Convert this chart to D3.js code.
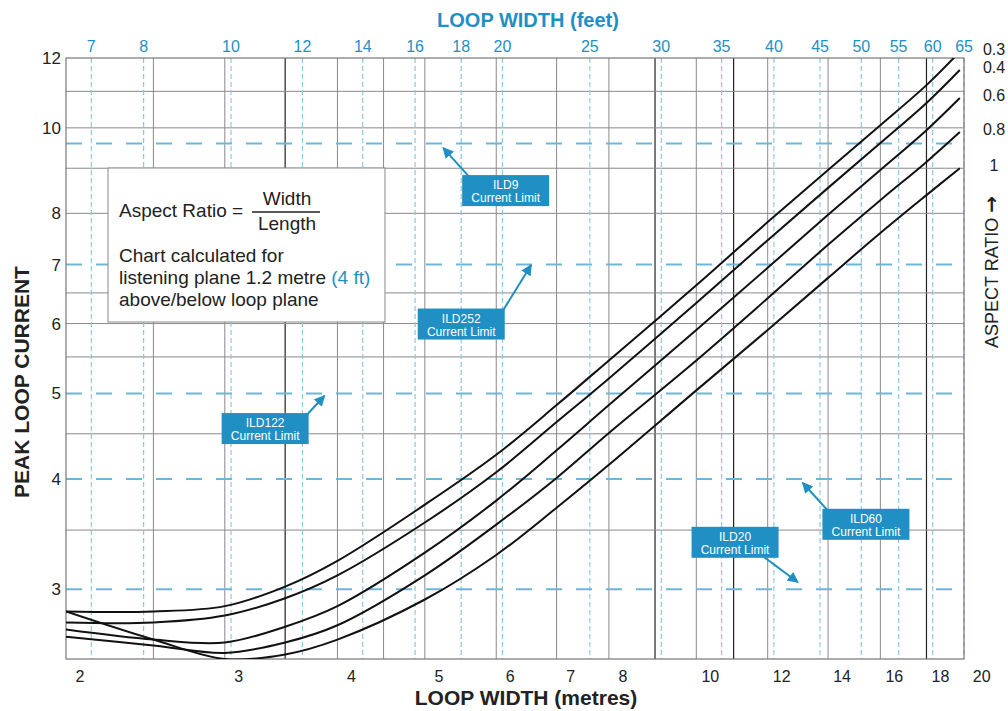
<!DOCTYPE html>
<html lang="en">
<head>
<meta charset="utf-8">
<title>Peak loop current</title>
<script src="https://d3js.org/d3.v7.min.js"></script>
<style>
  body{margin:0;background:#fff;font-family:"Liberation Sans",Arial,Helvetica,sans-serif;}
  svg text{font-family:"Liberation Sans",Arial,Helvetica,sans-serif;}
</style>
</head>
<body>
<div id="chart"></div>
<script>
// loop width samples (metres) used by every curve
var widths = [2, 2.5, 3, 3.5, 4, 5, 6, 7, 8, 10, 12, 14, 16, 18, 19.6]
// peak loop current for each aspect ratio
var ar03 = [2.83, 2.83, 2.87, 3.02, 3.23, 3.74, 4.26, 4.85, 5.45, 6.63, 7.82, 8.96, 10.07, 11.18, 12.2]
var ar04 = [2.75, 2.75, 2.80, 2.93, 3.11, 3.57, 4.07, 4.64, 5.20, 6.33, 7.46, 8.55, 9.61, 10.67, 11.63]
var ar06 = [2.70, 2.63, 2.61, 2.72, 2.87, 3.30, 3.78, 4.31, 4.85, 5.90, 6.94, 7.97, 8.96, 9.94, 10.81]
var ar08 = [2.65, 2.59, 2.54, 2.61, 2.73, 3.11, 3.55, 4.01, 4.51, 5.45, 6.41, 7.37, 8.28, 9.15, 9.89]
var ar10 = [2.83, 2.63, 2.50, 2.53, 2.63, 2.92, 3.28, 3.71, 4.15, 5.04, 5.90, 6.76, 7.60, 8.39, 9.0]
var curves = [ar03, ar04, ar06, ar08, ar10]
var ratioLabels = ["0.3", "0.4", "0.6", "0.8", "1"]

// axes ticks
var metreTicks = [2, 3, 4, 5, 6, 7, 8, 10, 12, 14, 16, 18, 20]
var feetTicks = [7, 8, 10, 12, 14, 16, 18, 20, 25, 30, 35, 40, 45, 50, 55, 60, 65]
var ampTicks = [3, 4, 5, 6, 7, 8, 10, 12]
// grid lines
var metreGrid = [2.5, 3, 3.5, 4, 4.5, 5, 6, 7, 8, 9, 10, 11, 12, 14, 16, 18]
var metreGridDark = [3.5, 9, 11, 18]
var ampGrid = [11, 10, 9, 8, 6.5, 6, 5.5, 4.5, 3.5]

// current limits of the amplifiers
var limitNames = ["ILD9", "ILD252", "ILD122", "ILD60", "ILD20"]
var limitAmps = [9.6, 7, 5, 4, 3]
// callout: box top-left, arrow start, arrow tip  (metres, amps)
var calloutBox = [[5.5, 8.84], [4.91, 6.24], [2.976, 4.75], [13.8, 3.70], [9.88, 3.53]]
var calloutFrom = [[5.6, 8.8], [6.1, 6.2], [3.7, 4.73], [14.0, 3.68], [11.8, 3.28]]
var calloutTip = [[5.24, 9.49], [6.56, 6.99], [3.87, 4.97], [13.12, 3.96], [12.96, 3.055]]

var W = 1008, H = 711
var svg = d3.select("#chart").append("svg").attr("width", W).attr("height", H)

var x = d3.scaleLog().domain([2, 19.81]).range([66, 964])
var y = d3.scaleLog().domain([2.5, 12]).range([659, 58])
var FT = 0.3048
var blue = "#1f8fc4", lightBlue = "#6cb7d9"

// solid grid
svg.selectAll(".vgrid").data(metreGrid).enter().append("line")
  .attr("x1", function(d){ return x(d) }).attr("x2", function(d){ return x(d) })
  .attr("y1", 58).attr("y2", 659)
  .attr("stroke", function(d){ return metreGridDark.indexOf(d) >= 0 ? "#222" : "#8a8a8a" })
  .attr("stroke-width", function(d){ return metreGridDark.indexOf(d) >= 0 ? 1.2 : 1 })
svg.selectAll(".hgrid").data(ampGrid).enter().append("line")
  .attr("x1", 66).attr("x2", 964)
  .attr("y1", function(d){ return y(d) }).attr("y2", function(d){ return y(d) })
  .attr("stroke", "#8a8a8a")

// feet grid (dashed blue)
svg.selectAll(".fgrid").data(feetTicks).enter().append("line")
  .attr("x1", function(d){ return x(d * FT) }).attr("x2", function(d){ return x(d * FT) })
  .attr("y1", 58).attr("y2", 659)
  .attr("stroke", "#8cc8e2").attr("stroke-width", 1.2).attr("stroke-dasharray", "5,3")

// current limit lines
svg.selectAll(".limit").data(limitAmps).enter().append("line")
  .attr("x1", 66).attr("x2", 964)
  .attr("y1", function(d){ return y(d) }).attr("y2", function(d){ return y(d) })
  .attr("stroke", lightBlue).attr("stroke-width", 2).attr("stroke-dasharray", "16,14")

// frame
svg.append("rect").attr("x", 66).attr("y", 58).attr("width", 898).attr("height", 601)
  .attr("fill", "none").attr("stroke", "#777").attr("stroke-width", 1.2)

// info box
var box = svg.append("g")
box.append("rect").attr("x", 108).attr("y", 168).attr("width", 277).attr("height", 154)
  .attr("fill", "#fff").attr("stroke", "#888")
box.append("text").attr("x", 119).attr("y", 217).attr("font-size", 19).attr("fill", "#222").text("Aspect Ratio =")
box.append("text").attr("x", 287).attr("y", 205).attr("font-size", 19).attr("fill", "#222").attr("text-anchor", "middle").text("Width")
box.append("line").attr("x1", 252).attr("x2", 320).attr("y1", 212).attr("y2", 212).attr("stroke", "#222").attr("stroke-width", 1.5)
box.append("text").attr("x", 287).attr("y", 230).attr("font-size", 19).attr("fill", "#222").attr("text-anchor", "middle").text("Length")
box.append("text").attr("x", 119).attr("y", 262).attr("font-size", 19).attr("fill", "#222").text("Chart calculated for")
var t2 = box.append("text").attr("x", 119).attr("y", 284).attr("font-size", 19).attr("fill", "#222")
t2.append("tspan").text("listening plane 1.2 metre ")
t2.append("tspan").attr("fill", blue).text("(4 ft)")
box.append("text").attr("x", 119).attr("y", 306).attr("font-size", 19).attr("fill", "#222").text("above/below loop plane")

// curves
svg.append("clipPath").attr("id", "clip").append("rect")
  .attr("x", 66).attr("y", 58).attr("width", 898).attr("height", 601)
var line = d3.line()
  .x(function(d){ return x(d[0]) })
  .y(function(d){ return y(d[1]) })
  .curve(d3.curveCatmullRom.alpha(0.5))
svg.append("g").attr("clip-path", "url(#clip)")
  .selectAll("path").data(curves).enter().append("path")
  .attr("d", function(c){ return line(widths.map(function(w, i){ return [w, c[i]] })) })
  .attr("fill", "none").attr("stroke", "#111").attr("stroke-width", 2)

// callouts
svg.append("defs").append("marker").attr("id", "arr")
  .attr("viewBox", "0 0 10 10").attr("refX", 9).attr("refY", 5)
  .attr("markerWidth", 5.5).attr("markerHeight", 5.5).attr("orient", "auto")
  .append("path").attr("d", "M0,0L10,5L0,10z").attr("fill", blue)
limitNames.forEach(function(name, i){
  var bx = x(calloutBox[i][0]), by = y(calloutBox[i][1])
  svg.append("line")
    .attr("x1", x(calloutFrom[i][0])).attr("y1", y(calloutFrom[i][1]))
    .attr("x2", x(calloutTip[i][0])).attr("y2", y(calloutTip[i][1]))
    .attr("stroke", blue).attr("stroke-width", 2).attr("marker-end", "url(#arr)")
  svg.append("rect").attr("x", bx).attr("y", by).attr("width", 87).attr("height", 31).attr("fill", blue)
  svg.append("text").attr("x", bx + 43.5).attr("y", by + 14).attr("text-anchor", "middle")
    .attr("font-size", 12).attr("fill", "#fff").text(name)
  svg.append("text").attr("x", bx + 43.5).attr("y", by + 27).attr("text-anchor", "middle")
    .attr("font-size", 12).attr("fill", "#fff").text("Current Limit")
})

// axis labels
svg.selectAll(".ml").data(metreTicks).enter().append("text")
  .attr("x", function(d){ return x(d) + 14 }).attr("y", 682)
  .attr("text-anchor", "middle").attr("font-size", 16).attr("fill", "#222").text(function(d){ return d })
svg.selectAll(".fl").data(feetTicks).enter().append("text")
  .attr("x", function(d){ return x(d * FT) }).attr("y", 52)
  .attr("text-anchor", "middle").attr("font-size", 16).attr("fill", blue).text(function(d){ return d })
svg.selectAll(".al").data(ampTicks).enter().append("text")
  .attr("x", 61).attr("y", function(d){ return y(d) + 6 })
  .attr("text-anchor", "end").attr("font-size", 17).attr("fill", "#222").text(function(d){ return d })
svg.selectAll(".rl").data(ratioLabels).enter().append("text")
  .attr("x", 994).attr("y", function(d, i){ return y(curves[i][curves[i].length - 1]) + 3 })
  .attr("text-anchor", "middle").attr("font-size", 16).attr("fill", "#222").text(function(d){ return d })

svg.append("text").attr("x", 528).attr("y", 27).attr("text-anchor", "middle")
  .attr("font-size", 20).attr("font-weight", "bold").attr("fill", blue).text("LOOP WIDTH (feet)")
svg.append("text").attr("x", 526).attr("y", 705).attr("text-anchor", "middle")
  .attr("font-size", 21).attr("font-weight", "bold").attr("fill", "#222").text("LOOP WIDTH (metres)")
svg.append("text").attr("transform", "translate(29,382) rotate(-90)").attr("text-anchor", "middle")
  .attr("font-size", 21).attr("font-weight", "bold").attr("fill", "#222").text("PEAK LOOP CURRENT")
var ar = svg.append("text").attr("transform", "translate(998,272) rotate(-90)").attr("text-anchor", "middle")
  .attr("font-size", 18).attr("fill", "#222")
ar.append("tspan").text("ASPECT RATIO ")
ar.append("tspan").attr("font-family", "DejaVu Sans").attr("font-weight", "bold").attr("font-size", 20).text("\u2192")
</script>
</body>
</html>
